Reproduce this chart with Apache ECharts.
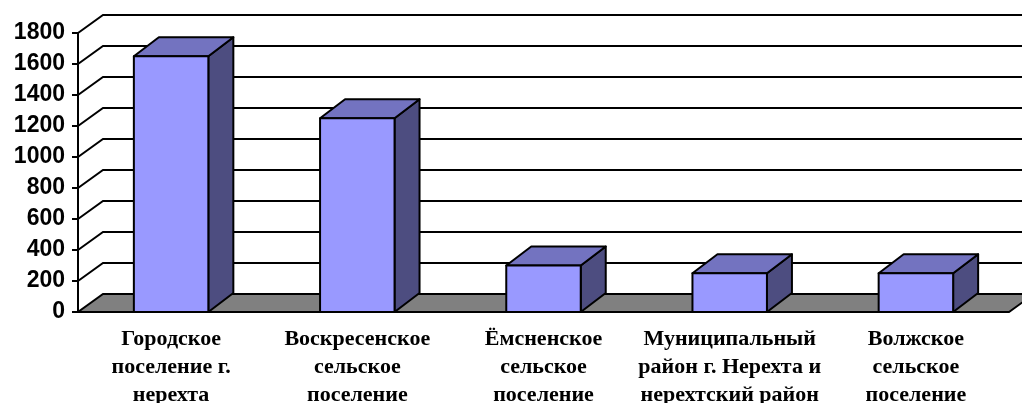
<!DOCTYPE html>
<html>
<head>
<meta charset="utf-8">
<script src="https://cdn.jsdelivr.net/npm/echarts@6/dist/echarts.min.js"></script>
<style>
html,body{margin:0;padding:0;background:#fff;}
#chart{width:1022px;height:403px;}
</style>
</head>
<body>
<div id="chart"></div>
<script>
var categories = [
  'Городское\nпоселение г.\nнерехта',
  'Воскресенское\nсельское\nпоселение',
  'Ёмсненское\nсельское\nпоселение',
  'Муниципальный\nрайон г. Нерехта и\nнерехтский район',
  'Волжское\nсельское\nпоселение'
];
var values = [1650, 1250, 300, 250, 250];
var yTicks = [0, 200, 400, 600, 800, 1000, 1200, 1400, 1600, 1800];

var DX = 25, DY = -18;       // depth offset of walls
var BDX = 25, BDY = -19;     // depth offset of bars
var LW = 2;

var chart = echarts.init(document.getElementById('chart'), null, {renderer: 'canvas'});

function wallsRender(params, api) {
  var band = api.size([1, 0])[0];
  var c0 = api.coord([0, 0]);
  var left = c0[0] - band / 2;
  var right = left + band * categories.length;
  var y0 = c0[1];
  var children = [];
  for (var i = 1; i < yTicks.length; i++) {
    var y = api.coord([0, yTicks[i]])[1];
    children.push({
      type: 'polyline',
      shape: {points: [[left, y], [left + DX, y + DY], [right + DX + 40, y + DY]]},
      style: {stroke: '#000', lineWidth: LW, fill: null}
    });
  }
  children.push({
    type: 'polygon',
    shape: {points: [[left, y0], [right, y0], [right + DX, y0 + DY], [left + DX, y0 + DY]]},
    style: {fill: '#808080', stroke: '#000', lineWidth: LW}
  });
  return {type: 'group', children: children};
}

function barRender(params, api) {
  var band = api.size([1, 0])[0];
  var hw = band * 0.2;
  var idx = api.value(0);
  var top = api.coord([idx, api.value(1)]);
  var bot = api.coord([idx, 0]);
  var x1 = top[0] - hw, x2 = top[0] + hw;
  var yt = top[1], yb = bot[1];
  var st = {stroke: '#000', lineWidth: LW, lineJoin: 'round'};
  return {
    type: 'group',
    children: [
      {type: 'polygon', shape: {points: [[x2, yb], [x2 + BDX, yb + BDY], [x2 + BDX, yt + BDY], [x2, yt]]},
        style: Object.assign({fill: '#4D4D80'}, st)},
      {type: 'polygon', shape: {points: [[x1, yt], [x1 + BDX, yt + BDY], [x2 + BDX, yt + BDY], [x2, yt]]},
        style: Object.assign({fill: '#7373C0'}, st)},
      {type: 'rect', shape: {x: x1, y: yt, width: x2 - x1, height: yb - yt},
        style: Object.assign({fill: '#9999FF'}, st)}
    ]
  };
}

chart.setOption({
  animation: false,
  backgroundColor: '#fff',
  grid: {left: 78, right: 13, top: 33, bottom: 91, containLabel: false, outerBoundsMode: 'none'},
  xAxis: {
    type: 'category',
    data: categories,
    boundaryGap: true,
    axisLine: {show: false},
    axisTick: {show: false},
    axisLabel: {
      interval: 0,
      margin: 13,
      fontFamily: 'Liberation Serif',
      fontWeight: 'bold',
      fontSize: 22,
      lineHeight: 28,
      color: '#000',
      align: 'center',
      verticalAlign: 'top'
    }
  },
  yAxis: {
    type: 'value',
    min: 0,
    max: 1800,
    interval: 200,
    splitLine: {show: false},
    axisLine: {show: true, lineStyle: {color: '#000', width: LW}},
    axisTick: {show: true, inside: false, length: 6, lineStyle: {color: '#000', width: LW}},
    axisLabel: {
      margin: 13,
      fontFamily: 'Liberation Sans',
      fontWeight: 'bold',
      fontSize: 23,
      color: '#000',
      formatter: function (v) { return String(v); }
    }
  },
  series: [
    {
      type: 'custom',
      clip: false,
      silent: true,
      z: 1,
      renderItem: wallsRender,
      data: [[0, 0]]
    },
    {
      type: 'custom',
      clip: false,
      z: 2,
      renderItem: barRender,
      encode: {x: 0, y: 1},
      data: values.map(function (v, i) { return [i, v]; })
    }
  ]
});
</script>
</body>
</html>
